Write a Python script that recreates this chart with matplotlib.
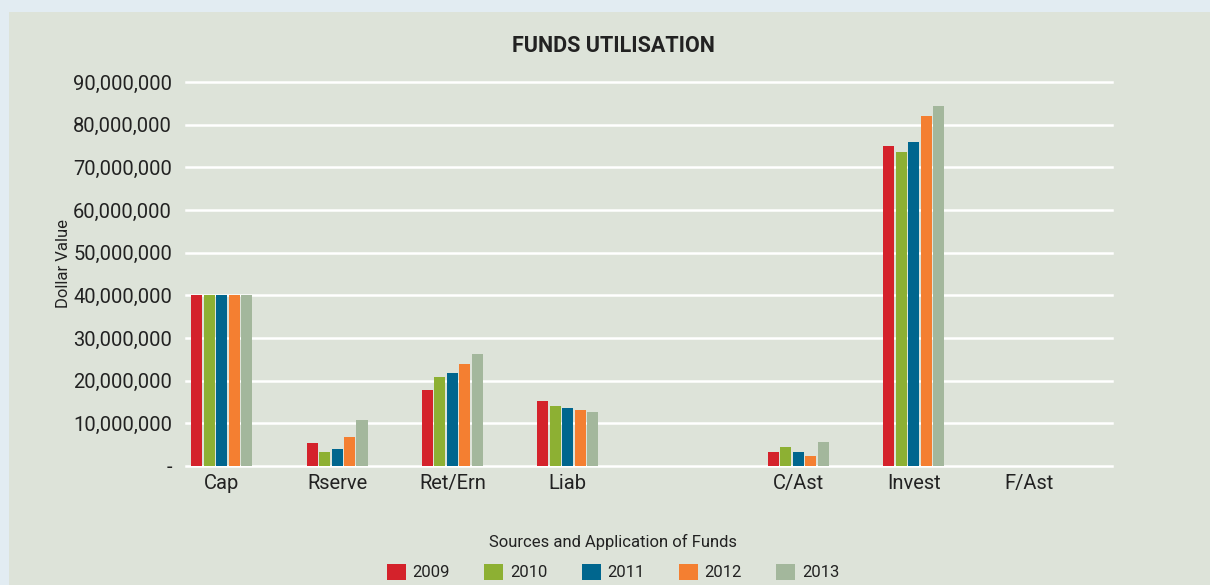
import matplotlib
matplotlib.use("Agg")
import matplotlib.pyplot as plt
from matplotlib.patches import Rectangle
from matplotlib.ticker import FuncFormatter
import numpy as np

plt.rcParams['font.family'] = ['Roboto', 'DejaVu Sans']

# data
categories = ['Cap', 'Rserve', 'Ret/Ern', 'Liab', '', 'C/Ast', 'Invest', 'F/Ast']
years = ['2009', '2010', '2011', '2012', '2013']
v2009 = [40.0e6, 5.4e6, 17.8e6, 15.2e6, 0, 3.3e6, 75.0e6, 0]
v2010 = [40.0e6, 3.3e6, 20.9e6, 14.1e6, 0, 4.5e6, 73.6e6, 0]
v2011 = [40.0e6, 4.0e6, 21.8e6, 13.6e6, 0, 3.3e6, 75.9e6, 0]
v2012 = [40.0e6, 6.8e6, 23.9e6, 13.1e6, 0, 2.3e6, 82.0e6, 0]
v2013 = [40.0e6, 10.8e6, 26.2e6, 12.7e6, 0, 5.6e6, 84.4e6, 0]
series = [v2009, v2010, v2011, v2012, v2013]
colors = ['#D4222B', '#8DB033', '#00668E', '#F47F31', '#A3B79C']

bg = '#DDE3D9'
txt = '#222222'

fig = plt.figure(figsize=(12.1, 5.85), dpi=100, facecolor='#E2ECF2')
fig.patches.append(Rectangle((9 / 1210, 0), 1, 1 - 12 / 585,
                             transform=fig.transFigure, facecolor=bg,
                             edgecolor='none', zorder=-10))

ax = fig.add_axes([186 / 1210, 1 - 466 / 585, (1112 - 186) / 1210, (466 - 82) / 585])
ax.set_facecolor(bg)

x = np.arange(len(categories))
stride = 0.108
width = 0.096
for i, (vals, col, yr) in enumerate(zip(series, colors, years)):
    ax.bar(x + (i - 2) * stride, vals, width, color=col, label=yr, zorder=3,
           edgecolor='none')

ax.set_ylim(0, 90e6)
ax.set_xlim(-0.31, 7.72)
ax.set_yticks(np.arange(0, 90e6 + 1, 10e6))
ax.yaxis.set_major_formatter(FuncFormatter(lambda v, p: '-' if v == 0 else '{:,.0f}'.format(v)))
ax.grid(axis='y', color='white', linewidth=1.8, zorder=1)
ax.grid(axis='x', visible=False)
for s in ax.spines.values():
    s.set_visible(False)
ax.tick_params(axis='both', length=0, labelsize=14.5, colors=txt, pad=6)
ax.tick_params(axis='y', pad=10)
ax.set_xticks(x)
ax.set_xticklabels(categories)
for line in ax.get_ygridlines():
    line.set_clip_on(False)

ax.set_ylabel('Dollar Value', fontsize=12, color=txt)
ax.yaxis.set_label_coords((71 - 186) / (1112 - 186), (466 - 264) / (466 - 82))

fig.text(613 / 1210, 1 - 46 / 585, 'FUNDS UTILISATION', ha='center', va='center',
         fontsize=15.5, fontweight='bold', color=txt)
fig.text(613 / 1210, 1 - 542 / 585, 'Sources and Application of Funds', ha='center',
         va='center', fontsize=12, color=txt)

leg = fig.legend(loc='center', bbox_to_anchor=(613 / 1210, 1 - 572 / 585), ncol=5,
                 frameon=False, fontsize=12, handlelength=1.15, handleheight=1.15,
                 columnspacing=2.05, handletextpad=0.4, borderaxespad=0)
for t in leg.get_texts():
    t.set_color(txt)

fig.savefig('out.png', dpi=100, facecolor=fig.get_facecolor())
